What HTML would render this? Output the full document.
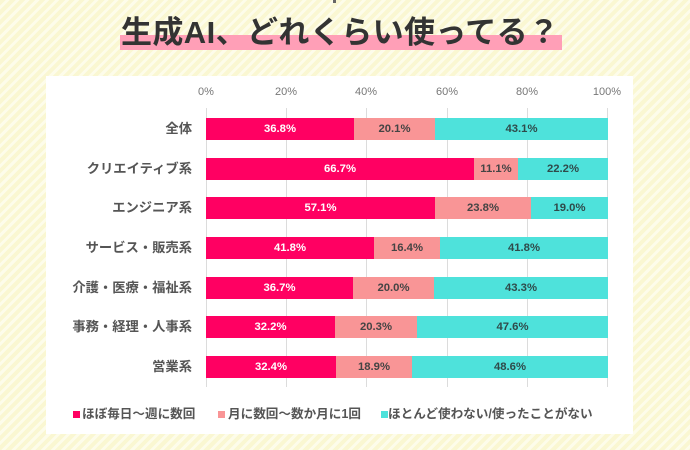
<!DOCTYPE html>
<html><head><meta charset="utf-8">
<style>
html,body{margin:0;padding:0;}
body{width:690px;height:450px;position:relative;overflow:hidden;
background:repeating-linear-gradient(135deg,#faf7d2 0px,#faf7d2 4px,#fdfcea 4px,#fdfcea 7px);
font-family:"Liberation Sans","Noto Sans CJK JP",sans-serif;}
.abs{position:absolute;}
.hl{left:120px;top:35px;width:442px;height:15px;background:#ff9fb7;}
.title{left:121px;top:13px;font-family:"Liberation Sans","Noto Sans CJK JP",sans-serif;font-weight:700;font-size:31px;color:#333;white-space:nowrap;letter-spacing:0.4px;line-height:40px;}
.panel{left:46px;top:76px;width:587px;height:358px;background:#fff;}
.grid{width:1px;top:108px;height:279px;background:#dcdcdc;}
.tick{top:85px;width:50px;text-align:center;font-size:11px;color:#777;line-height:14px;}
.cat{right:498px;width:160px;text-align:right;font-family:"Liberation Sans","Noto Sans CJK JP",sans-serif;font-weight:700;font-size:13.3px;color:#555;line-height:22px;white-space:nowrap;}
.seg{height:22px;line-height:22px;text-align:center;font-weight:700;font-size:11.3px;white-space:nowrap;}
.p{background:#ff0062;color:#fff;}
.s{background:#f99596;color:#444;}
.c{background:#4ee2db;color:#2f4a4a;}
.leg{top:406px;font-family:"Liberation Sans","Noto Sans CJK JP",sans-serif;font-weight:700;font-size:12.6px;color:#555;line-height:16px;white-space:nowrap;}
.sq{top:411px;width:7px;height:7px;}
</style></head><body>
<div class="abs" style="left:333px;top:0;width:3px;height:3px;background:#666;"></div>
<div class="abs hl"></div>
<div class="abs title">生成AI、どれくらい使ってる？</div>
<div class="abs panel"></div>

<div class="abs grid" style="left:206px;"></div>
<div class="abs grid" style="left:286px;"></div>
<div class="abs grid" style="left:366px;"></div>
<div class="abs grid" style="left:447px;"></div>
<div class="abs grid" style="left:527px;"></div>
<div class="abs grid" style="left:607px;"></div>

<div class="abs tick" style="left:181px;">0%</div>
<div class="abs tick" style="left:261px;">20%</div>
<div class="abs tick" style="left:341px;">40%</div>
<div class="abs tick" style="left:422px;">60%</div>
<div class="abs tick" style="left:502px;">80%</div>
<div class="abs tick" style="left:582px;">100%</div>

<div class="abs cat" style="top:118px;">全体</div>
<div class="abs cat" style="top:158px;">クリエイティブ系</div>
<div class="abs cat" style="top:197px;">エンジニア系</div>
<div class="abs cat" style="top:237px;">サービス・販売系</div>
<div class="abs cat" style="top:277px;">介護・医療・福祉系</div>
<div class="abs cat" style="top:316px;">事務・経理・人事系</div>
<div class="abs cat" style="top:356px;">営業系</div>

<!-- row 1 -->
<div class="abs seg p" style="top:118px;left:206px;width:148px;">36.8%</div>
<div class="abs seg s" style="top:118px;left:354px;width:81px;">20.1%</div>
<div class="abs seg c" style="top:118px;left:435px;width:173px;">43.1%</div>
<!-- row 2 -->
<div class="abs seg p" style="top:158px;left:206px;width:268px;">66.7%</div>
<div class="abs seg s" style="top:158px;left:474px;width:44px;">11.1%</div>
<div class="abs seg c" style="top:158px;left:518px;width:90px;">22.2%</div>
<!-- row 3 -->
<div class="abs seg p" style="top:197px;left:206px;width:229px;">57.1%</div>
<div class="abs seg s" style="top:197px;left:435px;width:96px;">23.8%</div>
<div class="abs seg c" style="top:197px;left:531px;width:77px;">19.0%</div>
<!-- row 4 -->
<div class="abs seg p" style="top:237px;left:206px;width:168px;">41.8%</div>
<div class="abs seg s" style="top:237px;left:374px;width:66px;">16.4%</div>
<div class="abs seg c" style="top:237px;left:440px;width:168px;">41.8%</div>
<!-- row 5 -->
<div class="abs seg p" style="top:277px;left:206px;width:147px;">36.7%</div>
<div class="abs seg s" style="top:277px;left:353px;width:81px;">20.0%</div>
<div class="abs seg c" style="top:277px;left:434px;width:174px;">43.3%</div>
<!-- row 6 -->
<div class="abs seg p" style="top:316px;left:206px;width:129px;">32.2%</div>
<div class="abs seg s" style="top:316px;left:335px;width:82px;">20.3%</div>
<div class="abs seg c" style="top:316px;left:417px;width:191px;">47.6%</div>
<!-- row 7 -->
<div class="abs seg p" style="top:356px;left:206px;width:130px;">32.4%</div>
<div class="abs seg s" style="top:356px;left:336px;width:76px;">18.9%</div>
<div class="abs seg c" style="top:356px;left:412px;width:196px;">48.6%</div>

<!-- legend -->
<div class="abs sq" style="left:73px;background:#ff0062;"></div>
<div class="abs leg" style="left:82px;">ほぼ毎日～週に数回</div>
<div class="abs sq" style="left:218px;background:#f99596;"></div>
<div class="abs leg" style="left:228px;">月に数回～数か月に1回</div>
<div class="abs sq" style="left:381px;background:#4ee2db;"></div>
<div class="abs leg" style="left:388px;">ほとんど使わない/使ったことがない</div>
</body></html>
